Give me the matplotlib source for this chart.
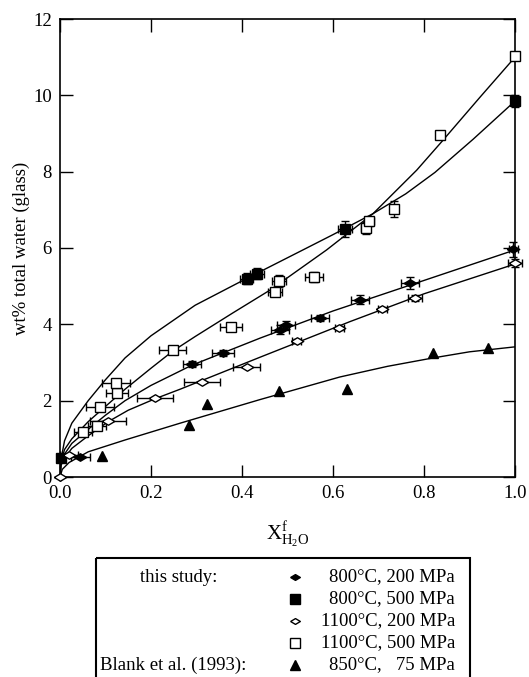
import numpy as np
import matplotlib
matplotlib.use('Agg')
import matplotlib.pyplot as plt
from matplotlib.patches import Rectangle

plt.rcParams['font.family'] = ['Liberation Serif', 'DejaVu Serif']
plt.rcParams['mathtext.fontset'] = 'custom'
plt.rcParams['mathtext.rm'] = 'Liberation Serif'
plt.rcParams['mathtext.it'] = 'Liberation Serif:italic'

# =============================================
# data
# =============================================
# 800 C, 200 MPa  (filled diamonds)
f200_x = [0.045, 0.29, 0.358, 0.484, 0.497, 0.571, 0.659, 0.769, 0.996]
f200_y = [0.52, 2.96, 3.25, 3.86, 3.98, 4.17, 4.64, 5.08, 5.97]
f200_xerr = [0.02, 0.02, 0.025, 0.02, 0.02, 0.02, 0.02, 0.02, 0.01]
f200_yerr = [0.0, 0.08, 0.08, 0.12, 0.1, 0.08, 0.12, 0.15, 0.2]

# 800 C, 500 MPa  (filled squares)
f500_x = [0.002, 0.41, 0.433, 0.626, 1.0]
f500_y = [0.5, 5.2, 5.33, 6.5, 9.85]
f500_xerr = [0.0, 0.015, 0.015, 0.015, 0.0]
f500_yerr = [0.0, 0.15, 0.15, 0.2, 0.15]

# 1100 C, 200 MPa  (open diamonds)
d200_x = [0.0, 0.02, 0.106, 0.209, 0.312, 0.41, 0.52, 0.614, 0.708, 0.78, 1.0]
d200_y = [0.0, 0.57, 1.46, 2.06, 2.49, 2.88, 3.56, 3.9, 4.4, 4.7, 5.6]
d200_xerr = [0.0, 0.02, 0.04, 0.04, 0.04, 0.03, 0.01, 0.01, 0.01, 0.015, 0.015]
d200_yerr = [0.0, 0.0, 0.0, 0.0, 0.0, 0.0, 0.05, 0.05, 0.05, 0.08, 0.1]

# 1100 C, 500 MPa  (open squares)
s500_x = [0.051, 0.081, 0.088, 0.125, 0.123, 0.248, 0.376, 0.473, 0.481,
          0.558, 0.672, 0.68, 0.733, 0.835, 1.0]
s500_y = [1.18, 1.34, 1.84, 2.2, 2.46, 3.32, 3.93, 4.85, 5.13,
          5.24, 6.52, 6.7, 7.02, 8.96, 11.03]
s500_xerr = [0.02, 0.02, 0.03, 0.025, 0.03, 0.03, 0.025, 0.015, 0.015,
             0.02, 0.01, 0.01, 0.0, 0.0, 0.0]
s500_yerr = [0.0, 0.0, 0.0, 0.0, 0.0, 0.0, 0.1, 0.1, 0.15,
             0.12, 0.15, 0.12, 0.2, 0.0, 0.0]

# Blank et al. (1993), 850 C, 75 MPa  (triangles)
blank_x = [0.092, 0.284, 0.323, 0.481, 0.631, 0.82, 0.94]
blank_y = [0.55, 1.36, 1.9, 2.25, 2.3, 3.25, 3.38]

# model curves (traced)
cf500_x = [0, 0.002, 0.01, 0.026, 0.062, 0.1, 0.143, 0.2, 0.297, 0.41, 0.534, 0.6, 0.688, 0.76, 0.824, 0.908, 1.0]
cf500_y = [0, 0.45, 0.95, 1.41, 2.0, 2.55, 3.12, 3.7, 4.5, 5.2, 5.95, 6.35, 6.9, 7.42, 7.98, 8.85, 9.85]
cs500_x = [0, 0.002, 0.01, 0.026, 0.062, 0.1, 0.143, 0.2, 0.248, 0.297, 0.38, 0.462, 0.586, 0.688, 0.784, 0.84, 0.923, 1.0]
cs500_y = [0, 0.4, 0.72, 1.0, 1.45, 1.85, 2.3, 2.85, 3.3, 3.68, 4.3, 4.9, 5.95, 6.9, 8.04, 8.8, 9.95, 11.0]
cf200_x = [0, 0.002, 0.01, 0.026, 0.062, 0.1, 0.143, 0.2, 0.29, 0.44, 0.6, 0.8, 1.0]
cf200_y = [0, 0.35, 0.6, 0.88, 1.25, 1.62, 2.0, 2.4, 2.93, 3.64, 4.35, 5.15, 5.95]
cd200_x = [0, 0.002, 0.01, 0.026, 0.062, 0.106, 0.15, 0.209, 0.264, 0.44, 0.637, 0.8, 1.0]
cd200_y = [0, 0.3, 0.5, 0.75, 1.08, 1.45, 1.75, 2.05, 2.3, 3.14, 4.07, 4.8, 5.58]
cb_x = [0, 0.005, 0.02, 0.062, 0.143, 0.264, 0.44, 0.615, 0.72, 0.82, 0.9, 1.0]
cb_y = [0, 0.2, 0.38, 0.66, 0.97, 1.41, 2.03, 2.62, 2.9, 3.12, 3.28, 3.41]

legend_labels = ['800°C, 200 MPa', '800°C, 500 MPa', '1100°C, 200 MPa',
                 '1100°C, 500 MPa', '850°C,   75 MPa']

# wide flat diamond marker
wdiam = [(-1, 0), (0, 0.6), (1, 0), (0, -0.6), (-1, 0)]

# =============================================
# plotting
# =============================================
W, H = 529, 677
fig = plt.figure(figsize=(W / 100, H / 100), dpi=100)
ax = fig.add_axes([60 / W, 1 - 477 / H, 455 / W, 458 / H])

for cx, cy in [(cf500_x, cf500_y), (cs500_x, cs500_y), (cf200_x, cf200_y),
               (cd200_x, cd200_y), (cb_x, cb_y)]:
    ax.plot(cx, cy, color='k', lw=1.0, zorder=2)

eb = dict(fmt='none', ecolor='k', elinewidth=1.0, capsize=3, capthick=1.0, zorder=3, clip_on=False)
ax.errorbar(f200_x, f200_y, xerr=f200_xerr, yerr=f200_yerr, **eb)
ax.errorbar(f500_x, f500_y, xerr=f500_xerr, yerr=f500_yerr, **eb)
ax.errorbar(d200_x, d200_y, xerr=d200_xerr, yerr=d200_yerr, **eb)
ax.errorbar(s500_x, s500_y, xerr=s500_xerr, yerr=s500_yerr, **eb)

mk = dict(ls='none', mec='k', mew=1.0, zorder=4, clip_on=False)
ax.plot(f200_x, f200_y, marker=wdiam, ms=9, mfc='k', **mk)
ax.plot(f500_x, f500_y, marker='s', ms=7, mfc='k', **mk)
ax.plot(d200_x, d200_y, marker=wdiam, ms=9, mfc='white', **mk)
ax.plot(s500_x, s500_y, marker='s', ms=7.5, mfc='white', **mk)
ax.plot(blank_x, blank_y, marker='^', ms=6.5, mfc='k', **mk)

ax.set_xlim(0, 1.0)
ax.set_ylim(0, 12)
ax.set_xticks([0, 0.2, 0.4, 0.6, 0.8, 1.0])
ax.set_xticklabels(['0.0', '0.2', '0.4', '0.6', '0.8', '1.0'])
ax.set_yticks([0, 2, 4, 6, 8, 10, 12])
ax.tick_params(direction='in', length=9, width=1.0, top=True, right=True,
               labelsize=13.5, pad=6)
for s in ax.spines.values():
    s.set_linewidth(1.2)

ax.set_ylabel('wt% total water (glass)', fontsize=13.5, labelpad=2)
ax.set_xlabel(r'$\mathrm{X}^{\mathrm{f}}_{\mathrm{H_2O}}$', fontsize=15, labelpad=12)

# legend box
lg = fig.add_axes([0, 0, 1, 1])
lg.set_xlim(0, W)
lg.set_ylim(H, 0)
lg.axis('off')
lg.add_patch(Rectangle((96, 558), 470 - 96, 130, fill=False, ec='k', lw=1.5))

rows = [577, 599, 621, 643, 665]
lg.text(140, rows[0], 'this study:', fontsize=13.5, va='center', ha='left')
lg.text(100, rows[4], 'Blank et al. (1993):', fontsize=13.5, va='center', ha='left')
leg_styles = [
    dict(marker=wdiam, ms=7, mfc='k'),
    dict(marker='s', ms=7, mfc='k'),
    dict(marker=wdiam, ms=7, mfc='white'),
    dict(marker='s', ms=7, mfc='white'),
    dict(marker='^', ms=7, mfc='k'),
]
for r, lab, st in zip(rows, legend_labels, leg_styles):
    lg.plot([295], [r], ls='none', mec='k', mew=1.0, **st)
    lg.text(455, r, lab, fontsize=13.5, va='center', ha='right')

fig.savefig('out.png', dpi=100)
